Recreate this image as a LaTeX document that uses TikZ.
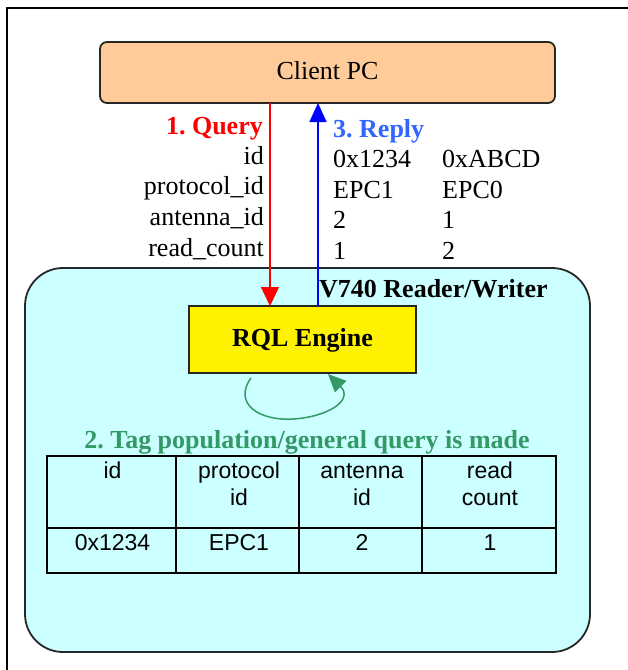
\documentclass[tikz,border=0pt]{standalone}
\usepackage{fontspec}
\setmainfont{Liberation Serif}
\setsansfont{Liberation Sans}
\usetikzlibrary{arrows.meta}
\definecolor{peach}{HTML}{FFCC99}
\definecolor{paleaqua}{HTML}{CCFFFF}
\definecolor{replyblue}{HTML}{3366FF}
\definecolor{loopgreen}{HTML}{339966}
\tikzset{
  big/.style={font=\fontsize{26}{31}\selectfont\frenchspacing, inner sep=0pt},
  bigbold/.style={font=\fontsize{26}{31}\selectfont\bfseries\frenchspacing, inner sep=0pt},
  cell/.style={font=\sffamily\fontsize{23}{27}\selectfont, inner sep=0pt, align=center, anchor=base},
  lbl/.style={big, anchor=base east},
  val/.style={big, anchor=base west},
}
\begin{document}
\begin{tikzpicture}[x=1pt, y=-1pt]
\useasboundingbox (0,0) rectangle (628,670);
\begin{scope}
  \clip (0,0) rectangle (628,670);
  % page frame
  \draw[line width=2pt] (7,8) rectangle (700,720);
\end{scope}

% client box
\node[draw=black!85, line width=1.8pt, fill=peach, rounded corners=7pt,
      minimum width=455pt, minimum height=61pt, inner sep=0pt] (pc) at (327.5,72.5) {};
\node[big, anchor=base] (pctext) at (327.5,79) {Client PC};

% reader / writer enclosure
\node[draw=black!85, line width=1.8pt, fill=paleaqua, rounded corners=38pt,
      minimum width=565pt, minimum height=384pt, inner sep=0pt] (reader) at (307.5,460) {};
\node[bigbold, anchor=base west] (readertext) at (319,297) {V740 Reader/Writer};

% engine
\node[draw=black!85, line width=1.8pt, fill=yellow,
      minimum width=227pt, minimum height=67pt, inner sep=0pt] (rql) at (302.5,339.5) {};
\node[bigbold, anchor=base] (rqltext) at (302.5,346) {RQL Engine};

% query and reply connectors
\coordinate (qtop) at (270,103);
\coordinate (qbot) at (270,306);
\coordinate (rbot) at (318,306);
\coordinate (rtop) at (318,103);
\draw[red, line width=1.5pt, -{Triangle[width=18pt,length=19pt]}] (qtop) -- (qbot);
\draw[blue, line width=1.5pt, -{Triangle[width=17pt,length=19pt]}] (rbot) -- (rtop);

% query labels
\node[bigbold, text=red, anchor=base east] (qhead) at (263,134) {1. Query};
\node[lbl] (l1) at (264,164) {id};
\node[lbl] (l2) at (264,194) {protocol\_id};
\node[lbl] (l3) at (264,225) {antenna\_id};
\node[lbl] (l4) at (264,256) {read\_count};

% reply values
\node[bigbold, text=replyblue, anchor=base west] (rhead) at (333,137) {3. Reply};
\node[val] (a1) at (333,167) {0x1234};
\node[val] (a2) at (333,198) {EPC1};
\node[val] (a3) at (333,228) {2};
\node[val] (a4) at (333,259) {1};
\node[val] (b1) at (442,167) {0xABCD};
\node[val] (b2) at (442,198) {EPC0};
\node[val] (b3) at (442,228) {1};
\node[val] (b4) at (442,259) {2};

% self loop of the engine
\coordinate (loopstart) at (251,378);
\coordinate (loopend) at (328,374);
\draw[loopgreen, line width=1.5pt, -{Triangle[width=16pt,length=18pt]}]
  (loopstart) .. controls (233,403) and (258,421) .. (293,419)
  .. controls (328,417) and (354,400) .. (loopend);
\node[bigbold, text=loopgreen, anchor=base] (poptext) at (307,448) {2. Tag population/general query is made};

% result table
\draw[line width=1.8pt] (47,456) rectangle (556,573);
\draw[line width=1.8pt] (47,528) -- (556,528);
\foreach \x in {176,299,422} \draw[line width=1.8pt] (\x,456) -- (\x,573);
\node[cell] (h1) at (112.5,478) {id};
\node[cell] (h2) at (239,505) {protocol\\id};
\node[cell] (h3) at (362,505) {antenna\\id};
\node[cell] (h4) at (490,505) {read\\count};
\node[cell] (c1) at (112.5,550) {0x1234};
\node[cell] (c2) at (239,550) {EPC1};
\node[cell] (c3) at (362,550) {2};
\node[cell] (c4) at (490,550) {1};
\end{tikzpicture}
\end{document}
